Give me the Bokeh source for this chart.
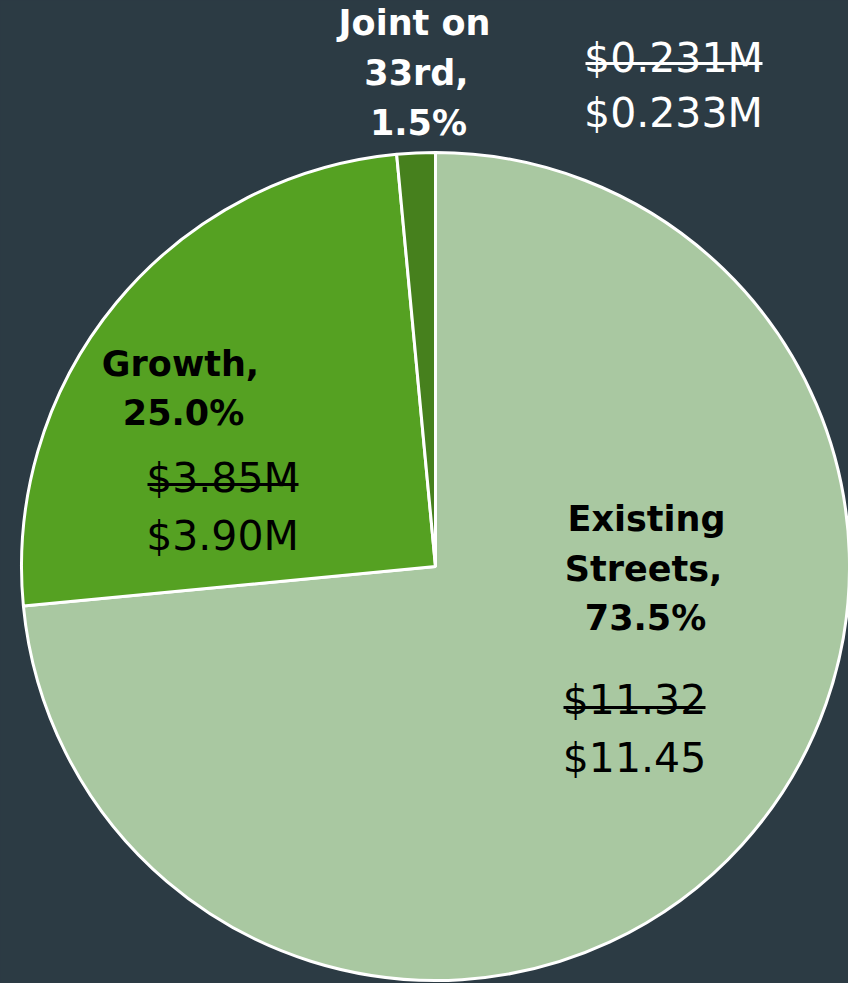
import math
from bokeh.plotting import figure
from bokeh.models import ColumnDataSource, Range1d, GlobalInlineStyleSheet
from bokeh.core.properties import value
from bokeh.embed import file_html
from bokeh.resources import INLINE

# ---- data ----
categories = ["Existing Streets", "Growth", "Joint on 33rd"]
old_values = [11.32, 3.85, 0.231]
new_values = [11.45, 3.90, 0.233]
old_labels = ["$11.32", "$3.85M", "$0.231M"]
new_labels = ["$11.45", "$3.90M", "$0.233M"]
colors = ["#a9c8a1", "#55a122", "#46801d"]

BG = "#2c3b44"
W, H = 848, 983
OX, OY = 0, 0


def px(x):
    return x - OX


def py(y):
    return (H + OY) - y


def pyt(y, fs):
    # baseline correction for rendered text
    return py(y) + 0.42 * fs


total = sum(new_values)
fracs = [v / total for v in new_values]
starts, ends = [], []
acc = 0.0
for f in fracs:
    starts.append(math.pi / 2 - 2 * math.pi * acc)
    acc += f
    ends.append(math.pi / 2 - 2 * math.pi * acc)

src = ColumnDataSource(dict(cat=categories, start=starts, end=ends, color=colors))

p = figure(width=W, height=H, output_backend="svg", toolbar_location=None,
           x_range=Range1d(0, W), y_range=Range1d(0, H),
           min_border=0, background_fill_color=BG, border_fill_color=BG)
p.axis.visible = False
p.grid.visible = False
p.outline_line_color = None
p.stylesheets = [GlobalInlineStyleSheet(css="body{background:%s;}" % BG)]

cx, cy, r = px(435), py(566), 414
p.wedge(x=cx, y=cy, radius=r, start_angle="start", end_angle="end",
        direction="clock", fill_color="color", line_color="white",
        line_width=3, source=src)

pcts = ["%.1f%%" % (f * 100) for f in fracs]

LFS = 35
VFS = 41
# label blocks: (lines, centre x, baselines, colour)
label_specs = [
    (["Existing", "Streets,", pcts[0]], [646, 643, 645], [533, 583, 632], "black"),
    (["Growth,", pcts[1]], [180, 183], [378, 427], "black"),
    (["Joint on", "33rd,", pcts[2]], [414, 416, 418], [37, 87, 137], "white"),
]
for lines, xs, ys, col in label_specs:
    p.text(x=[px(x) for x in xs], y=[pyt(y, LFS) for y in ys], text=lines,
           text_font=value("DejaVu Sans"), text_font_style="bold",
           text_font_size="%dpx" % LFS, text_color=col, text_align="center",
           text_baseline="alphabetic")

# value blocks: old (struck) and new
value_specs = [
    (0, 634, 717, 775, 563, 705, 707, "black"),
    (1, 222, 495, 553, 147, 298, 484, "black"),
    (2, 673, 75, 130, 585, 762, 63, "white"),
]
for i, xc, yb_old, yb_new, xl, xr, ys, col in value_specs:
    p.text(x=[px(xc), px(xc)], y=[pyt(yb_old, VFS), pyt(yb_new, VFS)],
           text=[old_labels[i], new_labels[i]],
           text_font=value("DejaVu Sans"), text_font_size="%dpx" % VFS,
           text_color=col, text_align="center", text_baseline="alphabetic")
    p.segment(x0=[px(xl)], y0=[py(ys)], x1=[px(xr)], y1=[py(ys)],
              line_color=col, line_width=3)

open("out.html", "w").write(file_html(p, INLINE))
